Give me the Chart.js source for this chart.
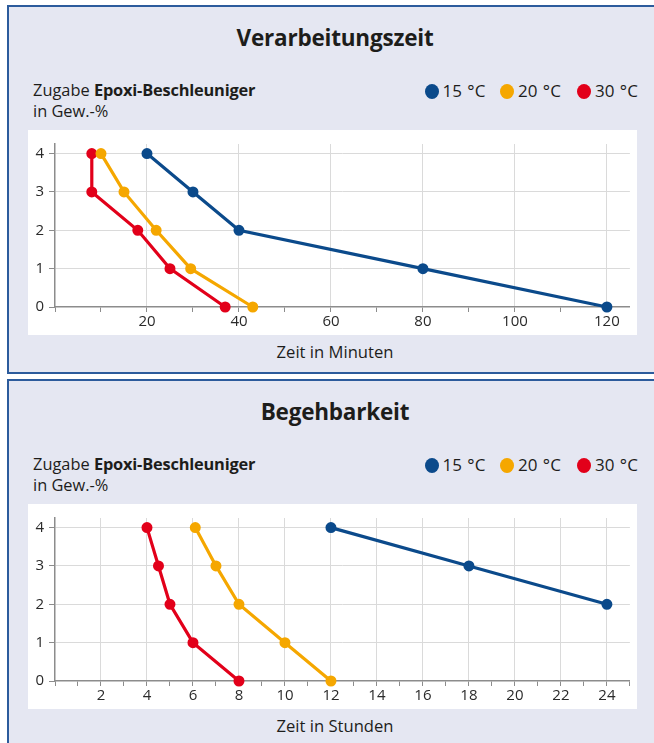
<!DOCTYPE html>
<html><head><meta charset="utf-8">
<script src="https://cdn.jsdelivr.net/npm/chart.js@4.4.1/dist/chart.umd.min.js"></script>
<style>
  body{margin:0;width:654px;height:743px;overflow:hidden;position:relative;background:#fff;font-family:"Open Sans",Lato,sans-serif;color:#1d1d1b}
  .panel{position:absolute;left:7px;width:700px;border:2px solid #2c5b9c;background:#e5e7f2;box-sizing:border-box}
  .t{position:absolute;white-space:nowrap;line-height:22px}
  .title{font-size:22.5px;font-weight:700;left:0;width:652px;text-align:center;line-height:30px;letter-spacing:-0.2px}
  .sub{left:24px;font-size:16.4px}
  .sub b{font-weight:700;letter-spacing:-0.2px}
  .leg{font-size:17px;word-spacing:1px}
  .dot{position:absolute;width:14px;height:15px;border-radius:50%}
  .xt{font-size:16.6px;left:0;width:652px;text-align:center}
  .box{position:absolute;width:609px;height:205px;background:#fff}
</style>
</head><body>
<script>
// Zugabe Epoxi-Beschleuniger in Gew.-% (y values)
const gew = [4, 3, 2, 1, 0];
const gewBlau2 = [4, 3, 2];
const serien = ["15 °C", "20 °C", "30 °C"];
const farben = ["#0b4a8b", "#f5a700", "#e2001a"];

// Verarbeitungszeit, Zeit in Minuten
const min15 = [20, 30, 40, 80, 120];
const min20 = [10, 15, 22, 29.5, 43];
const min30 = [8, 8, 18, 25, 37];

// Begehbarkeit, Zeit in Stunden
const std15 = [12, 18, 24];
const std20 = [6.1, 7, 8, 10, 12];
const std30 = [4, 4.5, 5, 6, 8];

const pts = (xs, ys) => xs.map((x, i) => ({ x, y: ys[i] }));

function panel(top, height, title, xTitle, sets, xMax, xStep, labStep, padTop) {
  const p = document.createElement("div");
  p.className = "panel"; p.style.top = top + "px"; p.style.height = height + "px";
  document.body.appendChild(p);
  // y is offset from panel top; x is page x
  const add = (cls, y, html, x) => {
    const d = document.createElement("div");
    d.className = "t " + cls; d.style.top = (y - 2) + "px";
    if (x != null) d.style.left = (x - 9) + "px";
    d.innerHTML = html; p.appendChild(d); return d;
  };
  add("title", 18, title);
  add("sub", 74, "Zugabe <b>Epoxi-Beschleuniger</b>");
  add("sub", 95, "in Gew.-%");
  [431.5, 507, 584].forEach((cx, i) => {
    const dot = document.createElement("div");
    dot.className = "dot"; dot.style.background = farben[i];
    dot.style.left = (cx - 7 - 9) + "px"; dot.style.top = (86 - 7.5 - 2) + "px";
    p.appendChild(dot);
    add("leg", 75, serien[i], cx + 11);
  });
  add("xt", 336, xTitle);
  const box = document.createElement("div");
  box.className = "box"; box.style.top = (125 - 2) + "px"; box.style.left = (28 - 9) + "px";
  const cv = document.createElement("canvas");
  box.appendChild(cv); p.appendChild(box);

  const tickFont = { family: "'Open Sans', Lato, sans-serif", size: 15 };
  new Chart(cv, {
    type: "line",
    data: {
      datasets: sets.map((s, i) => ({
        label: serien[i], data: s, borderColor: farben[i], backgroundColor: farben[i],
        borderWidth: 3.2, pointRadius: 3.9, pointHoverRadius: 3.9, tension: 0, clip: false,
      })),
    },
    options: {
      responsive: true, maintainAspectRatio: false, animation: false,
      layout: { padding: { top: padTop, right: 6, left: 0, bottom: 0 } },
      plugins: { legend: { display: false }, tooltip: { enabled: false } },
      scales: {
        x: {
          type: "linear", min: 0, max: xMax,
          afterFit: s => { s.height = 28; },
          ticks: { stepSize: xStep, includeBounds: false, autoSkip: false, maxRotation: 0, padding: 1,
            color: "#2a2a2a", font: tickFont,
            callback: v => (v > 0 && v % labStep === 0) ? v : "" },
          grid: { tickLength: 5, tickWidth: 1, tickColor: "#8c8c8c", lineWidth: 1,
            color: c => (c.tick && c.tick.value > 0 && c.tick.value % labStep === 0) ? "#dadada" : "rgba(0,0,0,0)" },
          border: { color: "#8c8c8c", width: 1.5 },
        },
        y: {
          type: "linear", min: 0, max: 4.25,
          afterFit: s => { s.width = 27; },
          ticks: { stepSize: 1, includeBounds: false, padding: 5, color: "#2a2a2a", font: tickFont },
          grid: { tickLength: 6, tickColor: "#8c8c8c", color: c => c.tick && c.tick.value === 0 ? "rgba(0,0,0,0)" : "#dadada", lineWidth: 1 },
          border: { color: "#8c8c8c", width: 1.5 },
        },
      },
    },
  });
}

panel(5, 369, "Verarbeitungszeit", "Zeit in Minuten",
  [pts(min15, gew), pts(min20, gew), pts(min30, gew)], 125, 10, 20, 12);
panel(379, 400, "Begehbarkeit", "Zeit in Stunden",
  [pts(std15, gewBlau2), pts(std20, gew), pts(std30, gew)], 25, 1, 2, 13);
</script>
</body></html>
